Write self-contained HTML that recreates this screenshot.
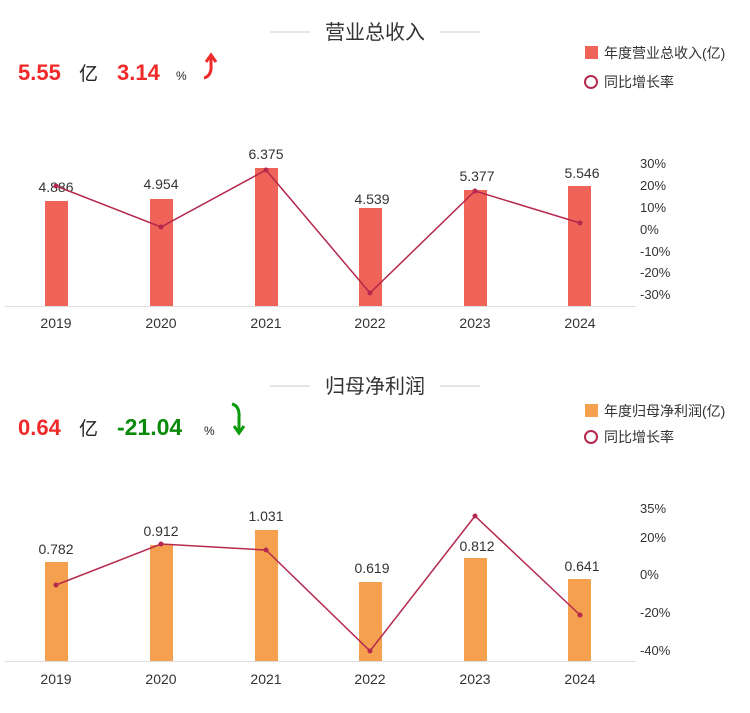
<!DOCTYPE html>
<html><head><meta charset="utf-8"><style>
body{margin:0;background:#fff;width:750px;height:708px;overflow:hidden}
svg text{font-family:"Liberation Sans","Noto Sans CJK SC",sans-serif}
</style></head><body>
<svg width="750" height="708" viewBox="0 0 750 708" xmlns="http://www.w3.org/2000/svg">
<!-- Chart 1 -->
<line x1="270" y1="32" x2="310" y2="32" stroke="#ccc"/>
<line x1="440" y1="32" x2="480" y2="32" stroke="#ccc"/>
<text x="375" y="39" font-size="20" fill="#333" text-anchor="middle">营业总收入</text>
<text x="18" y="80" font-size="22" font-weight="bold" fill="#f02a2a">5.55</text>
<text x="79" y="80" font-size="19" fill="#222">亿</text>
<text x="117" y="80" font-size="22" font-weight="bold" fill="#f02a2a">3.14</text>
<text x="176" y="80" font-size="12" fill="#222">%</text>
<path d="M204 78 Q212 76 211 64 L211 56 M206 62 L211 55 L216 62" stroke="#f02a2a" stroke-width="3" fill="none"/>
<rect x="585" y="46" width="13" height="13" fill="#ef6358"/>
<text x="604" y="58" font-size="14" fill="#333">年度营业总收入(亿)</text>
<circle cx="591" cy="82" r="6" fill="none" stroke="#b5294e" stroke-width="2"/>
<text x="604" y="87" font-size="14" fill="#333">同比增长率</text>
<g fill="#ef6358">
<rect x="45" y="201" width="23" height="105"/>
<rect x="150" y="199" width="23" height="107"/>
<rect x="255" y="168" width="23" height="138"/>
<rect x="359" y="208" width="23" height="98"/>
<rect x="464" y="190" width="23" height="116"/>
<rect x="568" y="186" width="23" height="120"/>
</g>
<line x1="5" y1="306.5" x2="636" y2="306.5" stroke="#ddd"/>
<g font-size="14" fill="#333" text-anchor="middle">
<text x="56" y="192">4.886</text><text x="161" y="189">4.954</text><text x="266" y="159">6.375</text>
<text x="372" y="204">4.539</text><text x="477" y="181">5.377</text><text x="582" y="178">5.546</text>
<text x="56" y="328">2019</text><text x="161" y="328">2020</text><text x="266" y="328">2021</text>
<text x="370" y="328">2022</text><text x="475" y="328">2023</text><text x="580" y="328">2024</text>
</g>
<polyline points="56,186 161,227 266,170 370,293 475,191 580,223" fill="none" stroke="#b5294e" stroke-width="1.5"/>
<g fill="#b5294e"><circle cx="56" cy="186" r="2.5"/><circle cx="161" cy="227" r="2.5"/><circle cx="266" cy="170" r="2.5"/><circle cx="370" cy="293" r="2.5"/><circle cx="475" cy="191" r="2.5"/><circle cx="580" cy="223" r="2.5"/></g>
<g font-size="13" fill="#333">
<text x="640" y="168">30%</text><text x="640" y="190">20%</text><text x="640" y="212">10%</text><text x="640" y="234">0%</text>
<text x="640" y="256">-10%</text><text x="640" y="277">-20%</text><text x="640" y="299">-30%</text>
</g>
<!-- Chart 2 -->
<line x1="270" y1="386" x2="310" y2="386" stroke="#ccc"/>
<line x1="440" y1="386" x2="480" y2="386" stroke="#ccc"/>
<text x="375" y="393" font-size="20" fill="#333" text-anchor="middle">归母净利润</text>
<text x="18" y="435" font-size="22" font-weight="bold" fill="#f02a2a">0.64</text>
<text x="79" y="435" font-size="19" fill="#222">亿</text>
<text x="117" y="435" font-size="23" font-weight="bold" fill="#0a8a0a">-21.04</text>
<text x="204" y="435" font-size="12" fill="#222">%</text>
<path d="M232 404 Q240 406 239 418 L239 432 M234 426 L239 433 L244 426" stroke="#0a9a0a" stroke-width="3" fill="none"/>
<rect x="585" y="404" width="13" height="13" fill="#f5a04e"/>
<text x="604" y="416" font-size="14" fill="#333">年度归母净利润(亿)</text>
<circle cx="591" cy="437" r="6" fill="none" stroke="#b5294e" stroke-width="2"/>
<text x="604" y="442" font-size="14" fill="#333">同比增长率</text>
<g fill="#f5a04e">
<rect x="45" y="562" width="23" height="99"/>
<rect x="150" y="545" width="23" height="116"/>
<rect x="255" y="530" width="23" height="131"/>
<rect x="359" y="582" width="23" height="79"/>
<rect x="464" y="558" width="23" height="103"/>
<rect x="568" y="579" width="23" height="82"/>
</g>
<line x1="5" y1="661.5" x2="636" y2="661.5" stroke="#ddd"/>
<g font-size="14" fill="#333" text-anchor="middle">
<text x="56" y="554">0.782</text><text x="161" y="536">0.912</text><text x="266" y="521">1.031</text>
<text x="372" y="573">0.619</text><text x="477" y="551">0.812</text><text x="582" y="571">0.641</text>
<text x="56" y="684">2019</text><text x="161" y="684">2020</text><text x="266" y="684">2021</text>
<text x="370" y="684">2022</text><text x="475" y="684">2023</text><text x="580" y="684">2024</text>
</g>
<polyline points="56,585 161,544 266,550 370,651 475,516 580,615" fill="none" stroke="#b5294e" stroke-width="1.5"/>
<g fill="#b5294e"><circle cx="56" cy="585" r="2.5"/><circle cx="161" cy="544" r="2.5"/><circle cx="266" cy="550" r="2.5"/><circle cx="370" cy="651" r="2.5"/><circle cx="475" cy="516" r="2.5"/><circle cx="580" cy="615" r="2.5"/></g>
<g font-size="13" fill="#333">
<text x="640" y="513">35%</text><text x="640" y="542">20%</text><text x="640" y="579">0%</text>
<text x="640" y="617">-20%</text><text x="640" y="655">-40%</text>
</g>
</svg>
</body></html>
